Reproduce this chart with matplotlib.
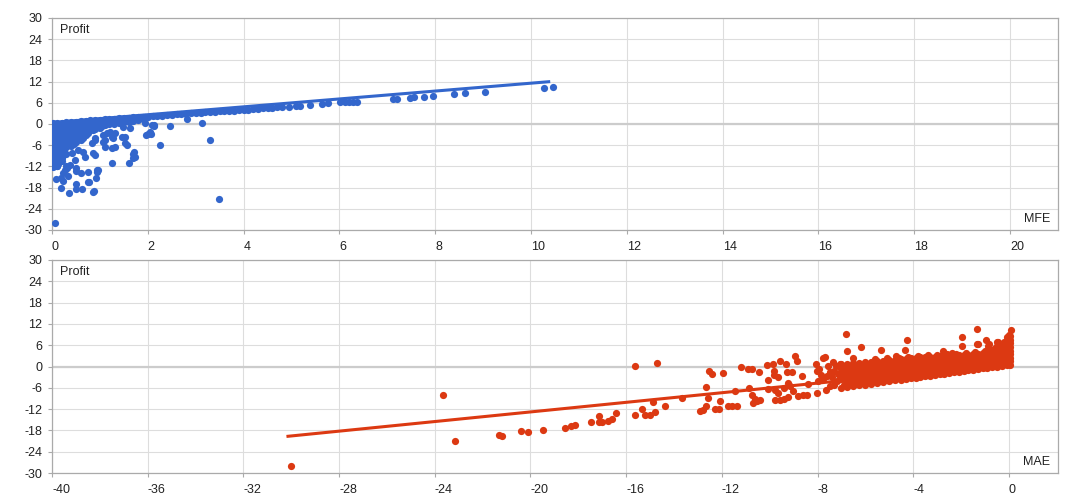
import matplotlib
matplotlib.use("Agg")
import matplotlib.pyplot as plt
import numpy as np

plt.rcParams['font.family'] = ['Liberation Sans', 'DejaVu Sans']
plt.rcParams['axes.unicode_minus'] = False

# ---------------- data ----------------
y_ticks = [-30, -24, -18, -12, -6, 0, 6, 12, 18, 24, 30]
mfe_ticks = [0, 2, 4, 6, 8, 10, 12, 14, 16, 18, 20]
mae_ticks = [-40, -36, -32, -28, -24, -20, -16, -12, -8, -4, 0]

# MFE panel: dense cluster near zero, as (MFE, [profits])
mfe_cluster = [
    (0.02, [0.2, -1.2, -2.6, -4.0, -5.4, -6.8, -8.2, -9.6, -11.0, -12.3]),
    (0.10, [0.3, -1.2, -2.6, -4.0, -5.4, -6.8, -8.2, -9.6, -11.0, -12.0]),
    (0.20, [0.4, -1.1, -2.5, -3.9, -5.3, -6.7, -8.1, -9.5, -10.6]),
    (0.30, [0.5, -1.0, -2.4, -3.8, -5.2, -6.6, -8.4]),
    (0.40, [0.6, -0.9, -2.3, -3.7, -5.1, -6.3]),
    (0.50, [0.7, -0.8, -2.2, -3.6, -5.0]),
    (0.60, [0.8, -0.7, -2.1, -3.5, -4.6]),
    (0.70, [0.9, -0.6, -2.0, -3.2]),
    (0.80, [1.0, -0.5, -1.8]),
    (0.90, [1.1, -0.4, -1.5]),
    (1.00, [1.2, -0.3, -1.2]),
    (1.10, [1.3, -0.2]),
    (1.20, [1.4, 0.0]),
    (1.30, [1.5, 0.1]),
    (1.40, [1.6, 0.3]),
    (1.50, [1.7, 0.5]),
    (1.60, [1.8, 0.7]),
    (1.70, [1.9, 0.9]),
    (1.80, [2.0, 1.1]),
    (1.90, [2.1, 1.3]),
]
mfe_cluster_fill = [
    (0.06, [-0.5, -1.9, -3.3, -4.7, -6.1, -7.5, -8.9, -10.3, -11.6]),
    (0.15, [-0.4, -1.8, -3.2, -4.6, -6.0, -7.4, -8.8, -10.2]),
    (0.25, [-0.3, -1.7, -3.1, -4.5, -5.9, -7.3]),
    (0.35, [-0.2, -1.6, -3.0, -4.4, -5.8]),
    (0.45, [-0.1, -1.5, -2.9, -4.3, -5.6]),
    (0.55, [0.0, -1.4, -2.8, -4.2]),
    (0.65, [0.1, -1.3, -2.7, -4.0]),
    (0.75, [0.2, -1.2, -2.6]),
    (0.85, [0.3, -1.0]),
    (0.95, [0.4, -0.8]),
    (1.05, [0.5, -0.7]),
    (1.15, [0.6]), (1.25, [0.7]), (1.35, [0.9]), (1.45, [1.0]),
    (1.55, [1.2]), (1.65, [1.3]), (1.75, [1.5]), (1.85, [1.7]), (1.95, [1.9]),
]
# MFE panel: upper band (profit close to MFE)
mfe_band = [
    (2.0, 2.1), (2.1, 2.2), (2.2, 2.3), (2.3, 2.4), (2.4, 2.5), (2.5, 2.6),
    (2.6, 2.7), (2.7, 2.8), (2.8, 2.9), (2.9, 3.0), (3.0, 3.1), (3.1, 3.2),
    (3.2, 3.3), (3.3, 3.4), (3.4, 3.5), (3.5, 3.6), (3.6, 3.6), (3.7, 3.7),
    (3.8, 3.8), (3.9, 3.9), (4.0, 4.0), (4.1, 4.1), (4.2, 4.2), (4.3, 4.3),
    (4.4, 4.4), (4.5, 4.5), (4.6, 4.6), (4.7, 4.7), (4.8, 4.8), (4.95, 4.9),
    (5.1, 5.1), (5.18, 5.2), (5.39, 5.4), (5.64, 5.6), (5.77, 5.9), (6.02, 6.2),
    (6.12, 6.2), (6.2, 6.3), (6.28, 6.3), (6.37, 6.3), (7.12, 7.0), (7.20, 7.2),
    (7.47, 7.4), (7.55, 7.7), (7.76, 7.7), (7.95, 8.0), (8.40, 8.4), (8.63, 8.7),
    (9.03, 9.1), (10.26, 10.3), (10.45, 10.5),
]
# MFE panel: scattered losers
mfe_scatter = [
    (0.06, -27.9), (0.36, -19.4), (0.87, -19.1), (0.50, -18.5), (0.63, -18.3),
    (0.18, -18.0), (0.08, -15.6), (0.18, -15.4), (0.24, -16.0), (0.34, -14.7),
    (0.50, -17.0), (0.78, -16.5), (0.92, -15.4), (0.61, -13.8), (0.76, -13.6),
    (0.95, -13.0), (0.93, -13.6), (0.50, -12.5), (0.50, -13.2), (0.27, -13.0),
    (0.31, -12.5), (0.24, -13.8), (1.25, -11.1), (1.60, -11.1), (1.70, -9.5),
    (1.72, -7.9), (2.26, -6.0), (2.47, -0.5), (2.12, -0.6), (2.07, -2.8),
    (1.96, -3.1), (1.94, 0.2), (1.53, -3.6), (3.49, -21.1), (3.30, -4.5),
    (3.13, 0.2), (2.81, 1.4), (0.13, -11.3), (0.10, -12.0), (0.29, -12.0),
    (0.38, -11.6), (0.90, -4.1), (0.83, -5.5), (1.07, -5.0), (1.25, -3.6),
    (1.32, -6.4), (1.11, -6.4), (1.46, -3.6), (1.53, -5.5), (1.14, -2.6),
    (0.86, -8.3), (0.90, -8.7), (0.65, -7.8), (0.55, -7.4), (0.69, -9.2),
    (0.48, -10.2), (0.41, -8.3), (1.56, -5.9), (1.73, -9.3), (1.70, -8.5),
    (0.86, -19.2), (0.93, -13.0), (0.76, -16.5), (2.13, -0.3), (2.05, -2.2),
    (2.08, -0.3), (2.01, -2.9), (1.63, -1.2), (1.49, -0.8), (1.28, -4.1),
    (1.32, -2.6), (1.21, -2.2), (1.07, -3.1), (1.11, -4.5), (1.25, -6.9),
    (0.90, -4.5), (0.86, -1.7),
]
mfe_trend_x = [0.0, 10.4]
mfe_trend_y = [0.4, 12.0]

# MAE panel: dense cluster, as (MAE, [profits])
mae_cluster = [
    (-7.00, [-6.0, -3.4, -0.8, 0.6]),
    (-6.75, [-5.8, -4.5, -3.2, -1.9, -0.6, 0.8]),
    (-6.50, [-5.5, -4.2, -2.9, -1.6, -0.3, 1.0]),
    (-6.25, [-5.3, -4.0, -2.7, -1.4, -0.1, 1.1]),
    (-6.00, [-5.1, -3.8, -2.5, -1.2, 0.0, 1.2]),
    (-5.75, [-4.8, -3.6, -2.3, -1.0, 0.2, 1.4]),
    (-5.50, [-4.6, -3.4, -2.2, -0.9, 0.3, 1.5]),
    (-5.25, [-4.4, -3.2, -2.0, -0.8, 0.4, 1.6]),
    (-5.00, [-4.2, -3.0, -1.8, -0.6, 0.6, 1.8]),
    (-4.75, [-3.9, -2.7, -1.5, -0.4, 0.8, 1.9]),
    (-4.50, [-3.7, -2.5, -1.4, -0.3, 0.9, 2.1]),
    (-4.30, [-3.5, -2.4, -1.3, -0.2, 1.0, 2.2]),
    (-4.10, [-3.3, -2.2, -1.1, 0.0, 1.1, 2.3]),
    (-3.90, [-3.1, -2.0, -0.9, 0.2, 1.3, 2.5]),
    (-3.70, [-2.9, -1.8, -0.8, 0.3, 1.4, 2.6]),
    (-3.50, [-2.8, -1.7, -0.6, 0.4, 1.5, 2.7]),
    (-3.30, [-2.6, -1.5, -0.5, 0.5, 1.6, 2.8]),
    (-3.10, [-2.4, -1.3, -0.3, 0.7, 1.7, 2.8]),
    (-2.90, [-2.2, -1.2, -0.2, 0.8, 1.8, 2.9]),
    (-2.70, [-2.0, -1.0, 0.0, 0.9, 1.9, 3.0]),
    (-2.50, [-1.8, -0.8, 0.1, 1.0, 2.0, 3.0]),
    (-2.30, [-1.6, -0.7, 0.2, 1.1, 2.1, 3.1]),
    (-2.10, [-1.5, -0.5, 0.4, 1.2, 2.1, 3.1]),
    (-1.90, [-1.3, -0.4, 0.5, 1.3, 2.2, 3.2]),
    (-1.70, [-1.1, -0.2, 0.6, 1.4, 2.3, 3.3]),
    (-1.50, [-0.9, 0.0, 0.8, 1.6, 2.5, 3.4]),
    (-1.30, [-0.7, 0.2, 1.0, 1.8, 2.7, 3.6]),
    (-1.10, [-0.5, 0.4, 1.2, 2.0, 2.9, 3.8]),
    (-0.90, [-0.3, 0.6, 1.4, 2.3, 3.2, 4.1]),
    (-0.70, [-0.2, 0.8, 1.7, 2.7, 3.6, 4.6]),
    (-0.50, [0.0, 1.0, 2.0, 3.0, 4.0, 5.0, 5.8]),
    (-0.30, [0.2, 1.2, 2.2, 3.2, 4.2, 5.2, 6.2]),
    (-0.10, [0.4, 1.4, 2.4, 3.4, 4.4, 5.4, 6.4, 7.4, 8.3]),
    (0.05, [0.5, 1.5, 2.5, 3.5, 4.5, 5.5, 6.5, 7.5, 8.5]),
]
mae_cluster_fill = [
    (-6.90, [-5.2, -2.6, -1.3, 0.0]),
    (-6.60, [-5.0, -3.7, -2.4, -1.1, 0.2]),
    (-6.40, [-4.8, -3.5, -2.2, -0.9, 0.4]),
    (-6.10, [-4.6, -3.3, -2.0, -0.7, 0.5]),
    (-5.90, [-4.4, -3.1, -1.8, -0.5, 0.7]),
    (-5.60, [-4.2, -3.0, -1.7, -0.4, 0.8, 2.0]),
    (-5.40, [-4.0, -2.8, -1.5, -0.2, 1.0]),
    (-5.10, [-3.8, -2.6, -1.3, -0.1, 1.1, 2.3]),
    (-4.90, [-3.6, -2.4, -1.2, 0.0, 1.2]),
    (-4.60, [-3.3, -2.1, -0.9, 0.2, 1.4, 2.5]),
    (-4.40, [-3.0, -1.9, -0.8, 0.4, 1.5]),
    (-4.20, [-2.8, -1.7, -0.6, 0.5, 1.6, 2.7]),
    (-4.00, [-2.7, -1.6, -0.5, 0.6, 1.8]),
    (-3.80, [-2.5, -1.4, -0.3, 0.8, 1.9, 3.0]),
    (-3.60, [-2.3, -1.2, -0.1, 0.9, 2.0]),
    (-3.40, [-2.1, -1.0, 0.0, 1.0, 2.1, 3.1]),
    (-3.20, [-1.9, -0.8, 0.2, 1.2, 2.2]),
    (-3.00, [-1.7, -0.7, 0.3, 1.3, 2.3, 3.3]),
    (-2.80, [-1.5, -0.5, 0.5, 1.4, 2.4]),
    (-2.60, [-1.3, -0.3, 0.6, 1.5, 2.5, 3.4]),
    (-2.40, [-1.2, -0.2, 0.7, 1.6, 2.6]),
    (-2.20, [-1.0, 0.0, 0.8, 1.7, 2.6, 3.5]),
    (-2.00, [-0.8, 0.1, 1.0, 1.8, 2.7]),
    (-1.80, [-0.6, 0.2, 1.1, 1.9, 2.8, 3.7]),
    (-1.60, [-0.5, 0.4, 1.2, 2.0, 2.9]),
    (-1.40, [-0.3, 0.6, 1.4, 2.2, 3.1, 4.0]),
    (-1.20, [-0.1, 0.8, 1.6, 2.4, 3.3]),
    (-1.00, [0.1, 1.0, 1.8, 2.7, 3.6, 4.4]),
    (-0.80, [0.3, 1.2, 2.1, 3.0, 3.9]),
    (-0.60, [0.5, 1.5, 2.5, 3.5, 4.5, 5.3]),
    (-0.40, [0.7, 1.7, 2.7, 3.7, 4.7, 5.7]),
    (-0.20, [0.9, 1.9, 2.9, 3.9, 4.9, 5.9, 6.9]),
    (0.00, [1.0, 2.0, 3.0, 4.0, 5.0, 6.0, 7.0, 8.0, 9.0]),
]
# MAE panel: scattered points
mae_scatter = [
    (-30.0, -28.0), (-23.67, -7.9), (-23.17, -21.0), (-21.32, -19.2), (-21.18, -19.6),
    (-20.40, -18.3), (-20.09, -18.5), (-19.49, -18.0), (-18.56, -17.2), (-18.32, -16.8),
    (-18.13, -16.6), (-17.47, -15.6), (-17.14, -13.9), (-17.14, -15.6), (-17.0, -15.5),
    (-16.75, -15.3), (-16.58, -14.8), (-16.43, -13.1), (-15.63, 0.2), (-14.73, 1.1),
    (-15.63, -13.8), (-15.33, -12.1), (-15.21, -13.6), (-15.0, -13.6), (-14.78, -12.8),
    (-14.89, -10.1), (-14.39, -11.1), (-13.68, -8.9), (-12.92, -12.6), (-12.78, -12.3),
    (-12.68, -11.2), (-12.57, -8.9), (-12.66, -5.9), (-12.55, -1.3), (-12.43, -2.1),
    (-12.29, -12.0), (-12.12, -12.0), (-12.08, -9.6), (-11.94, -1.9), (-11.76, -11.0),
    (-11.58, -11.0), (-11.38, -11.0), (-11.45, -6.9), (-11.20, -0.1), (-10.90, -0.6),
    (-10.75, -0.8), (-10.85, -6.0), (-10.75, -7.9), (-10.62, -9.1), (-10.71, -10.3),
    (-10.55, -9.6), (-10.41, -9.3), (-10.46, -1.5), (-10.13, 0.4), (-9.85, 0.8),
    (-9.57, 1.5), (-9.32, 0.8), (-10.06, -3.9), (-9.81, -1.2), (-9.82, -2.5),
    (-9.64, -2.9), (-10.06, -6.2), (-9.78, -6.5), (-9.64, -7.5), (-9.78, -9.5),
    (-9.57, -9.5), (-9.40, -9.1), (-9.22, -8.6), (-9.40, -6.0), (-9.22, -4.6),
    (-9.15, -5.6), (-9.01, -7.0), (-9.27, -1.6), (-9.06, -1.5), (-8.93, 2.9),
    (-8.87, 1.5), (-8.81, -8.2), (-8.60, -8.0), (-8.46, -7.9), (-8.67, -2.7),
    (-8.39, -4.8), (-8.07, 0.8), (-7.69, 2.7), (-7.76, 2.5), (-8.01, -1.3),
    (-7.93, -0.6), (-8.04, -7.5), (-7.97, -4.2), (-7.76, -3.5), (-7.62, -2.7),
    (-7.65, -6.5), (-7.48, -5.6), (-7.37, 1.3), (-7.30, -1.3), (-6.81, 9.1),
    (-6.76, 4.5), (-6.19, 5.6), (-6.51, 2.5), (-5.36, 4.6), (-4.74, 2.9),
    (-4.35, 4.6), (-4.25, 7.4), (-2.75, 4.3), (-2.40, 3.7), (-1.95, 8.4),
    (-1.95, 5.7), (-1.35, 10.5), (-1.28, 6.4), (-0.96, 7.6), (-0.86, 5.7),
    (-0.45, 7.0), (0.08, 10.3), (-7.06, 0.6), (-6.99, -0.7), (-6.93, -2.5),
    (-7.06, -3.2), (-6.85, -5.1), (-1.35, 6.2), (-0.82, 6.2), (-0.51, 6.9),
    (-7.20, -4.0), (-7.15, -2.0), (-7.40, -3.0), (-7.25, 0.2), (-7.50, -1.5),
    (-7.30, -5.2), (-7.55, 0.1), (-7.85, -2.3),
]
mae_trend_x = [-30.2, 0.1]
mae_trend_y = [-19.7, 0.8]

BLUE = '#3366cc'
RED = '#dc3912'


def expand(cols):
    xs, ys = [], []
    for x, ylist in cols:
        for y in ylist:
            xs.append(x)
            ys.append(y)
    return xs, ys


def unzip(pairs):
    return [p[0] for p in pairs], [p[1] for p in pairs]


# ---------------- figure ----------------
W, H = 1075, 500
fig = plt.figure(figsize=(W / 100, H / 100), dpi=100)
left = 52 / W
width = 1006 / W
ax1 = fig.add_axes([left, 1 - 230 / H, width, 212 / H])
ax2 = fig.add_axes([left, 1 - 473 / H, width, 213 / H])


def style(ax, xticks, xlim, xlabel):
    ax.set_xlim(*xlim)
    ax.set_ylim(-30, 30)
    ax.set_xticks(xticks)
    ax.set_yticks(y_ticks)
    ax.set_xticklabels([str(t) for t in xticks], ha='left')
    ax.set_yticklabels([str(t) for t in y_ticks])
    ax.grid(True, color='#dddddd', linewidth=0.8, zorder=0)
    ax.set_axisbelow(True)
    ax.axhline(0, color='#cccccc', linewidth=1.6, zorder=1)
    for sp in ax.spines.values():
        sp.set_color('#aaaaaa')
        sp.set_linewidth(0.9)
    ax.tick_params(axis='both', colors='#aaaaaa', labelcolor='#222222',
                   labelsize=9, length=3, width=0.8)
    ax.tick_params(axis='x', pad=5)
    ax.tick_params(axis='y', pad=4)
    ax.text(8 / 1006, 1 - 12 / 212, 'Profit', transform=ax.transAxes,
            ha='left', va='center', fontsize=9, color='#222222')
    ax.text(1 - 8 / 1006, 11 / 212, xlabel, transform=ax.transAxes,
            ha='right', va='center', fontsize=9, color='#222222')


style(ax1, mfe_ticks, (0, 21.0), 'MFE')
style(ax2, mae_ticks, (-40, 2.05), 'MAE')

MS = 27

# top panel
cx, cy = expand(mfe_cluster)
fx, fy = expand(mfe_cluster_fill)
bx, by = unzip(mfe_band)
sx, sy = unzip(mfe_scatter)
ax1.scatter(cx + fx + bx + sx, cy + fy + by + sy, s=MS, color=BLUE,
            linewidths=0, zorder=3)
ax1.plot(mfe_trend_x, mfe_trend_y, color=BLUE, linewidth=2.2, zorder=4,
         solid_capstyle='butt')

# bottom panel
cx, cy = expand(mae_cluster)
fx, fy = expand(mae_cluster_fill)
sx, sy = unzip(mae_scatter)
ax2.scatter(cx + fx + sx, cy + fy + sy, s=MS, color=RED, linewidths=0, zorder=3)
ax2.plot(mae_trend_x, mae_trend_y, color=RED, linewidth=2.2, zorder=4,
         solid_capstyle='butt')

fig.savefig('out.png', dpi=100, facecolor='white')
